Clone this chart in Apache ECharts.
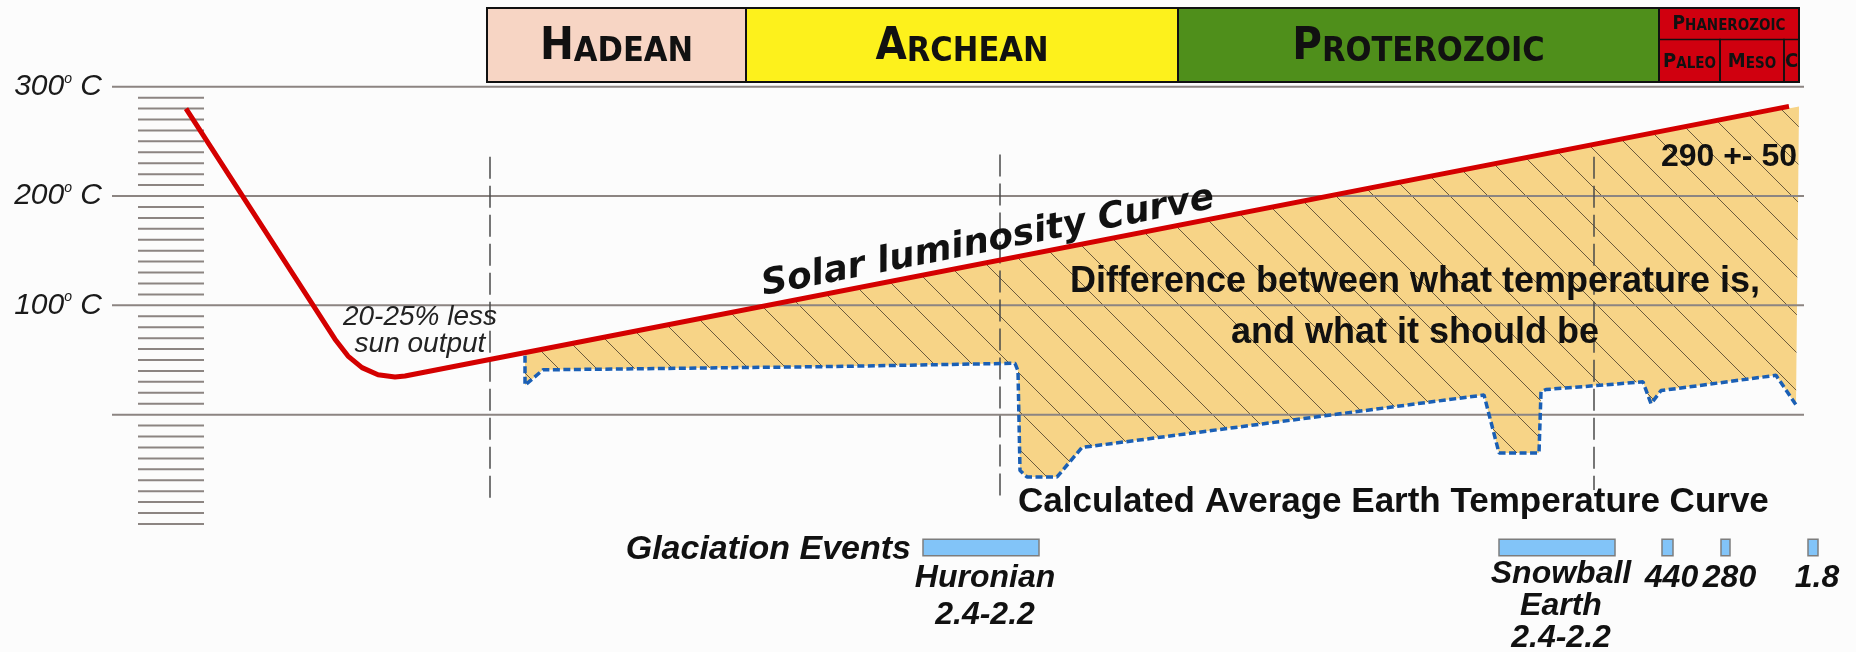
<!DOCTYPE html>
<html>
<head>
<meta charset="utf-8">
<title>Solar luminosity vs Earth temperature</title>
<script src="https://cdn.jsdelivr.net/npm/echarts@6/dist/echarts.min.js"></script>
<style>
  html, body { margin: 0; padding: 0; background: #fcfcfc; }
  #chart { width: 1856px; height: 652px; }
</style>
</head>
<body>
<div id="chart"></div>
<script>
// x = position along the time line (0 = left end of the grid lines), y = temperature in °C
const solarX = [74, 223, 236, 250, 266, 283, 293, 1677];
const solarY = [280, 69, 53.6, 43, 36.5, 34.4, 35.3, 282];

const earthX = [413, 413, 431, 718, 903, 906, 908, 915, 945, 970, 1372, 1387, 1427, 1429, 1434, 1531, 1539, 1549, 1664, 1684];
const earthY = [54, 27, 41, 44, 47, 40, -51, -57, -57, -30, 18, -35, -35, 21, 23, 30, 10, 22, 36, 9];

// upper edge of the hatched "difference" area
const gapTopX = [413, 1687];
const gapTopY = [57, 282];

const gridTemps = [0, 100, 200, 300];
const tickTemps = [290, 280, 270, 260, 250, 240, 230, 220, 210,
  190, 180, 170, 160, 150, 140, 130, 120, 110,
  90, 80, 70, 60, 50, 40, 30, 20, 10,
  -10, -20, -30, -40, -50, -60, -70, -80, -90, -100];

const eonNames = ['HADEAN', 'ARCHEAN', 'PROTEROZOIC', 'PHANEROZOIC'];
const eonStart = [375, 634, 1066, 1547];
const eonEnd = [634, 1066, 1547, 1687];
const eonColors = ['#f7d5c4', '#fdf11c', '#4f8f1b', '#d0000f'];

const eraNames = ['PALEO', 'MESO', 'C'];
const eraStart = [1547, 1608, 1672];
const eraEnd = [1608, 1672, 1687];

const dividerX = [378, 888, 1482];
const dividerTop = [236, 238, 236];
const dividerBottom = [-78, -76, -69];

const glacStart = [811, 1387, 1550, 1609, 1696];
const glacEnd = [927, 1503, 1561, 1618, 1706];
const glacLabels = ['Huronian\n2.4-2.2', 'Snowball\nEarth\n2.4-2.2', '440', '280', '1.8'];
const glacBand = [-114, -129];

const chart = echarts.init(document.getElementById('chart'));

// orange fill with thin diagonal hatching
const hatch = (function () {
  const c = document.createElement('canvas');
  c.width = 38; c.height = 38;
  const g = c.getContext('2d');
  g.fillStyle = '#f7d487';
  g.fillRect(0, 0, 38, 38);
  g.strokeStyle = 'rgba(60,50,35,0.75)';
  g.lineWidth = 1;
  g.beginPath();
  g.moveTo(-1, -1);
  g.lineTo(39, 39);
  g.stroke();
  return c;
})();

const gray = '#8c8582';
const eonFont = '"DejaVu Sans Condensed", "Liberation Sans"';

function capsRich(big, small) {
  return {
    a: { fontSize: big, fontFamily: eonFont, fontWeight: 'bold', fill: '#111', verticalAlign: 'bottom', lineHeight: big },
    b: { fontSize: small, fontFamily: eonFont, fontWeight: 'bold', fill: '#111', verticalAlign: 'bottom', lineHeight: small }
  };
}

function capsText(name) {
  return '{a|' + name[0] + '}{b|' + name.slice(1) + '}';
}

const option = {
  backgroundColor: '#fcfcfc',
  animation: false,
  grid: [
    { left: 112, right: 0, top: 86.7, bottom: 18.7, outerBoundsMode: 'none' },
    { left: 112, right: 0, top: 8, height: 74, outerBoundsMode: 'none' }
  ],
  xAxis: [
    { type: 'value', gridIndex: 0, min: 0, max: 1744, show: false },
    { type: 'value', gridIndex: 1, min: 0, max: 1744, show: false }
  ],
  yAxis: [
    {
      type: 'value', gridIndex: 0, min: -200, max: 300, interval: 100,
      axisLine: { show: false }, axisTick: { show: false }, splitLine: { show: false },
      axisLabel: {
        margin: 10,
        formatter: v => v >= 100 ? '{n|' + v + '}{o|o}{n| C}' : '',
        rich: {
          n: { fontSize: 30, fontStyle: 'italic', fontFamily: 'Liberation Sans', color: '#1a1a1a' },
          o: { fontSize: 14, fontStyle: 'italic', fontFamily: 'Liberation Sans', color: '#1a1a1a', verticalAlign: 'top', lineHeight: 30 }
        }
      }
    },
    { type: 'value', gridIndex: 1, min: 0, max: 2, show: false }
  ],
  series: [
    {
      // hatched gap between solar curve and earth temperature
      type: 'custom', xAxisIndex: 0, yAxisIndex: 0, z: 1,
      data: [[0, 0]],
      renderItem: function (params, api) {
        const pts = [];
        gapTopX.forEach((x, i) => pts.push(api.coord([x, gapTopY[i]])));
        for (let i = earthX.length - 1; i >= 0; i--) pts.push(api.coord([earthX[i], earthY[i]]));
        return { type: 'polygon', shape: { points: pts }, style: { fill: { image: hatch, repeat: 'repeat' } } };
      }
    },
    {
      // horizontal grid lines
      type: 'custom', xAxisIndex: 0, yAxisIndex: 0, z: 2,
      data: gridTemps.map(t => [t]),
      renderItem: function (params, api) {
        const a = api.coord([0, api.value(0)]);
        const b = api.coord([1692, api.value(0)]);
        return { type: 'line', shape: { x1: a[0], y1: a[1], x2: b[0], y2: b[1] }, style: { stroke: gray, lineWidth: 2 } };
      }
    },
    {
      // thermometer ticks
      type: 'custom', xAxisIndex: 0, yAxisIndex: 0, z: 2,
      data: tickTemps.map(t => [t]),
      renderItem: function (params, api) {
        const a = api.coord([26, api.value(0)]);
        const b = api.coord([92, api.value(0)]);
        return { type: 'line', shape: { x1: a[0], y1: a[1], x2: b[0], y2: b[1] }, style: { stroke: gray, lineWidth: 2 } };
      }
    },
    {
      // dashed eon dividers
      type: 'custom', xAxisIndex: 0, yAxisIndex: 0, z: 2,
      data: dividerX.map((x, i) => [x, dividerTop[i], dividerBottom[i]]),
      renderItem: function (params, api) {
        const a = api.coord([api.value(0), api.value(1)]);
        const b = api.coord([api.value(0), api.value(2)]);
        return { type: 'line', shape: { x1: a[0], y1: a[1], x2: b[0], y2: b[1] }, style: { stroke: '#4a4a4a', lineWidth: 1.5, lineDash: [22, 7] } };
      }
    },
    {
      name: 'Solar luminosity Curve',
      type: 'line', xAxisIndex: 0, yAxisIndex: 0, z: 5,
      data: solarX.map((x, i) => [x, solarY[i]]),
      showSymbol: false,
      lineStyle: { color: '#d40000', width: 5, join: 'round' }
    },
    {
      name: 'Calculated Average Earth Temperature Curve',
      type: 'line', xAxisIndex: 0, yAxisIndex: 0, z: 6,
      data: earthX.map((x, i) => [x, earthY[i]]),
      showSymbol: false,
      lineStyle: { color: '#1a5fb5', width: 3.5, type: [7, 3.5] }
    },
    {
      // glaciation events
      type: 'custom', xAxisIndex: 0, yAxisIndex: 0, z: 7,
      data: glacStart.map((s, i) => [s, glacEnd[i]]),
      renderItem: function (params, api) {
        const i = params.dataIndex;
        const a = api.coord([api.value(0), glacBand[0]]);
        const b = api.coord([api.value(1), glacBand[1]]);
        const tall = glacLabels[i].split('\n').length > 2;
        return {
          type: 'group', children: [
            { type: 'rect', shape: { x: a[0], y: a[1], width: b[0] - a[0], height: b[1] - a[1] }, style: { fill: '#82c4f8', stroke: '#7d7d7d', lineWidth: 1.5 } },
            { type: 'text', style: { text: glacLabels[i], x: (a[0] + b[0]) / 2 + 4, y: b[1] + (tall ? 2 : 4), align: 'center', verticalAlign: 'top', font: 'italic bold 32px "Liberation Sans"', lineHeight: tall ? 32 : 37, fill: '#111' } }
          ]
        };
      }
    },
    {
      // eon bar
      type: 'custom', xAxisIndex: 1, yAxisIndex: 1, z: 3,
      data: eonStart.map((s, i) => [s, eonEnd[i]]),
      renderItem: function (params, api) {
        const i = params.dataIndex;
        const p0 = api.coord([api.value(0), 2]);
        const p1 = api.coord([api.value(1), 0]);
        const last = i === eonNames.length - 1;
        const labelY = last ? api.coord([0, 1.57])[1] : (p0[1] + p1[1]) / 2 + 2;
        return {
          type: 'group', children: [
            { type: 'rect', shape: { x: p0[0], y: p0[1], width: p1[0] - p0[0], height: p1[1] - p0[1] }, style: { fill: eonColors[i], stroke: '#111', lineWidth: 2 } },
            { type: 'text', style: { text: capsText(eonNames[i]), x: (p0[0] + p1[0]) / 2, y: labelY, align: 'center', verticalAlign: 'middle', rich: last ? capsRich(19, 15) : capsRich(45, 34) } }
          ]
        };
      }
    },
    {
      // phanerozoic eras
      type: 'custom', xAxisIndex: 1, yAxisIndex: 1, z: 4,
      data: eraStart.map((s, i) => [s, eraEnd[i]]),
      renderItem: function (params, api) {
        const i = params.dataIndex;
        const p0 = api.coord([api.value(0), 1.15]);
        const p1 = api.coord([api.value(1), 0]);
        return {
          type: 'group', children: [
            { type: 'rect', shape: { x: p0[0], y: p0[1], width: p1[0] - p0[0], height: p1[1] - p0[1] }, style: { fill: 'none', stroke: '#111', lineWidth: 1.5 } },
            { type: 'text', style: { text: capsText(eraNames[i]), x: (p0[0] + p1[0]) / 2, y: (p0[1] + p1[1]) / 2 + 1, align: 'center', verticalAlign: 'middle', rich: capsRich(20, 15) } }
          ]
        };
      }
    }
  ],
  graphic: [
    { type: 'text', x: 988, y: 242, rotation: 0.192, z: 10,
      style: { text: 'Solar luminosity Curve', font: 'italic bold 36px "DejaVu Sans"', fill: '#111', align: 'center', verticalAlign: 'middle' } },
    { type: 'text', x: 420, y: 331, z: 10,
      style: { text: '20-25% less\nsun output', font: 'italic 28px "Liberation Sans"', lineHeight: 27, fill: '#222', align: 'center', verticalAlign: 'middle' } },
    { type: 'text', x: 1415, y: 308, z: 10,
      style: { text: 'Difference between what temperature is,\nand what it should be', font: 'bold 36px "Liberation Sans"', lineHeight: 51, fill: '#111', align: 'center', verticalAlign: 'middle' } },
    { type: 'text', x: 1797, y: 157, z: 10,
      style: { text: '290 +- 50', font: 'bold 32px "Liberation Sans"', fill: '#111', align: 'right', verticalAlign: 'middle' } },
    { type: 'text', x: 1018, y: 502, z: 10,
      style: { text: 'Calculated Average Earth Temperature Curve', font: 'bold 35px "Liberation Sans"', fill: '#111', align: 'left', verticalAlign: 'middle' } },
    { type: 'text', x: 911, y: 550, z: 10,
      style: { text: 'Glaciation Events', font: 'italic bold 34px "Liberation Sans"', fill: '#111', align: 'right', verticalAlign: 'middle' } }
  ]
};

chart.setOption(option);
</script>
</body>
</html>
